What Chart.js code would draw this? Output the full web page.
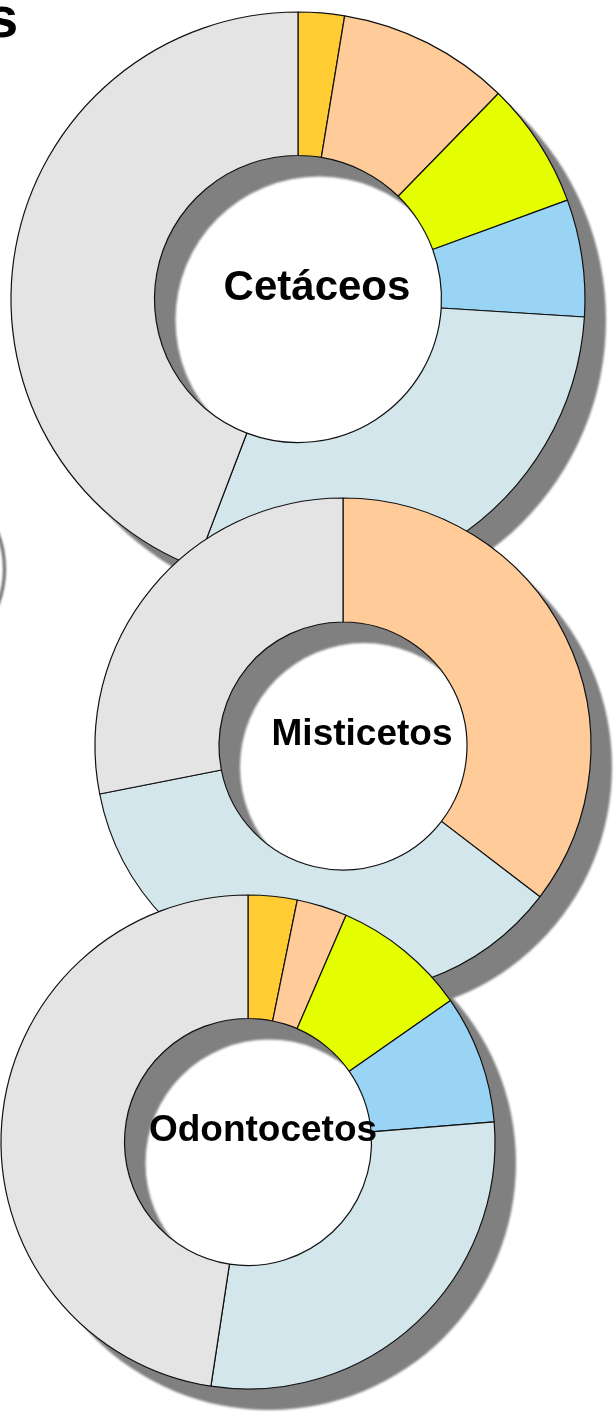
<!DOCTYPE html>
<html>
<head>
<meta charset="utf-8">
<script src="https://cdn.jsdelivr.net/npm/chart.js@4.4.0/dist/chart.umd.min.js"></script>
<style>
  body { margin: 0; width: 615px; height: 1414px; overflow: hidden; background: #fff; position: relative; }
  canvas { position: absolute; }
  #title { position: absolute; left: -14px; top: -17px; font: bold 58px "Liberation Sans", Arial, sans-serif; color: #000; }
  #edge { position: absolute; left: -196px; top: 468px; width: 196px; height: 196px; border-radius: 50%;
          border: 3px solid #666; filter: blur(1px); }
</style>
</head>
<body>
<div id="title">s</div>
<div id="edge"></div>
<canvas id="c1" width="644" height="644" style="left:-24px; top:-23px; z-index:1"></canvas>
<canvas id="c2" width="566" height="566" style="left:60px; top:463px; z-index:2"></canvas>
<canvas id="c3" width="564" height="564" style="left:-34px; top:860px; z-index:3"></canvas>
<script>
// Datos
let categories = ['Grupo 1', 'Grupo 2', 'Grupo 3', 'Grupo 4', 'Grupo 5', 'Grupo 6'];
let sliceColors = ['#FFCC33', '#FFCC99', '#E6FF00', '#99D4F5', '#D2E6EC', '#E4E4E4'];
let cetaceos = [2.6, 9.7, 7.1, 6.6, 29.8, 44.2];
let misticetos = [0, 35.4, 0, 0, 36.5, 28.1];
let odontocetos = [3.2, 3.3, 8.8, 8.4, 28.7, 47.6];

// Sombra gris desplazada detrás del anillo
let ringShadow = {
  id: 'ringShadow',
  beforeDatasetsDraw(chart) {
    let arc = chart.getDatasetMeta(0).data[0];
    let p = arc.getProps(['x', 'y', 'innerRadius', 'outerRadius'], true);
    let ctx = chart.ctx;
    ctx.save();
    ctx.filter = 'blur(1px)';
    ctx.fillStyle = '#808080';
    ctx.beginPath();
    ctx.arc(p.x + 21, p.y + 21, p.outerRadius, 0, Math.PI * 2);
    ctx.arc(p.x + 21, p.y + 21, p.innerRadius, 0, Math.PI * 2, true);
    ctx.fill();
    ctx.restore();
  }
};

// Texto en el centro
let centerText = {
  id: 'centerText',
  afterDatasetsDraw(chart, args, opts) {
    let arc = chart.getDatasetMeta(0).data[0];
    let ctx = chart.ctx;
    ctx.save();
    ctx.font = 'bold ' + opts.size + 'px "Liberation Sans", Arial, sans-serif';
    ctx.fillStyle = '#000';
    ctx.textAlign = 'center';
    ctx.textBaseline = 'middle';
    ctx.fillText(opts.text, arc.x + opts.dx, arc.y - 11);
    ctx.restore();
  }
};

let createDoughnut = (id, values, name, radius, fontSize, dx) => {
  let ctx = document.getElementById(id).getContext('2d');
  return new Chart(ctx, {
    type: 'doughnut',
    data: {
      labels: categories,
      datasets: [{
        data: values,
        backgroundColor: sliceColors,
        borderColor: '#111',
        borderWidth: 1.2
      }]
    },
    options: {
      responsive: false,
      animation: false,
      radius: radius,
      cutout: '50%',
      layout: { padding: 0 },
      plugins: {
        legend: { display: false },
        tooltip: { enabled: false },
        centerText: { text: name, size: fontSize, dx: dx }
      }
    },
    plugins: [ringShadow, centerText]
  });
};

createDoughnut('c1', cetaceos, 'Cetáceos', 287, 42, 19);
createDoughnut('c2', misticetos, 'Misticetos', 248, 37, 19);
createDoughnut('c3', odontocetos, 'Odontocetos', 247, 37, 15);
</script>
</body>
</html>
